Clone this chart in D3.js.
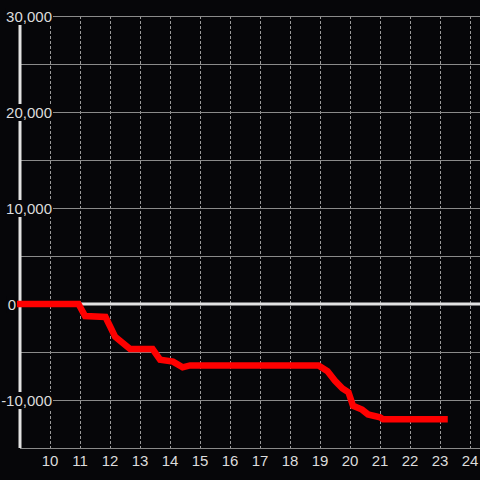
<!DOCTYPE html>
<html><head><meta charset="utf-8">
<script src="https://cdn.jsdelivr.net/npm/d3@7"></script>
<style>html,body{margin:0;padding:0;background:#060609;}svg{display:block;}</style>
</head><body>
<svg id="c" width="480" height="480"></svg>
<script>
const hours = [9, 10.95, 11.17, 11.85, 12.17, 12.67, 13.42, 13.67, 14.1, 14.42, 14.67, 18.95, 19.25, 19.5, 19.75, 19.95, 20.1, 20.4, 20.6, 21.0, 21.1, 23.15];
const values = [0, 0, -1250, -1350, -3400, -4700, -4700, -5800, -6000, -6600, -6400, -6400, -7000, -8000, -8800, -9200, -10600, -11000, -11500, -11800, -12000, -12000];
const yGridTicks = [-15000, -10000, -5000, 0, 5000, 10000, 15000, 20000, 25000, 30000];
const yLabelTicks = [-10000, 0, 10000, 20000, 30000];
const xTicks = [10, 11, 12, 13, 14, 15, 16, 17, 18, 19, 20, 21, 22, 23, 24];

const svg = d3.select("#c");
const W = 480, H = 480;
const x = d3.scaleLinear().domain([9, 24]).range([20, 470]);
const y = d3.scaleLinear().domain([-15000, 30000]).range([448, 16]);
const fmt = d3.format(",");
const font = "'Liberation Sans', Arial, sans-serif";

svg.append("rect").attr("width", W).attr("height", H).attr("fill", "#060609");

// vertical dashed grid
svg.append("g").selectAll("line").data(xTicks).join("line")
  .attr("x1", d => x(d) + 0.5).attr("x2", d => x(d) + 0.5)
  .attr("y1", y(30000)).attr("y2", y(-15000))
  .attr("stroke", "#9a9a9a").attr("stroke-width", 1).attr("stroke-dasharray", "3,2");

// horizontal grid
svg.append("g").selectAll("line").data(yGridTicks.filter(d => d !== 0)).join("line")
  .attr("x1", x(9)).attr("x2", W)
  .attr("y1", d => y(d) + 0.5).attr("y2", d => y(d) + 0.5)
  .attr("stroke", "#8a8a8a").attr("stroke-width", 1);

// zero line
svg.append("line").attr("x1", x(9)).attr("x2", W)
  .attr("y1", y(0)).attr("y2", y(0))
  .attr("stroke", "#e2e2e2").attr("stroke-width", 3);

// left axis
svg.append("line").attr("x1", x(9)).attr("x2", x(9))
  .attr("y1", y(30000)).attr("y2", y(-15000))
  .attr("stroke", "#e2e2e2").attr("stroke-width", 3);

// data line
const pts = hours.map((h, i) => [h, values[i]]);
svg.append("path").datum(pts)
  .attr("d", d3.line().x(d => x(d[0])).y(d => y(d[1])))
  .attr("fill", "none").attr("stroke", "#ff0000").attr("stroke-width", 6.5)
  .attr("stroke-linejoin", "miter").attr("stroke-linecap", "square");

// y labels with background
const yl = svg.append("g");
yLabelTicks.forEach(v => {
  const g = yl.append("g");
  const t = g.append("text")
    .attr("x", v === 0 ? 16 : 52)
    .attr("y", y(v) + 6)
    .attr("text-anchor", "end")
    .attr("font-family", font).attr("font-size", 15)
    .attr("fill", "#dcdcdc")
    .text(fmt(v).replace("−", "-"));
  const b = t.node().getBBox();
  g.insert("rect", "text")
    .attr("x", b.x - 1).attr("y", b.y).attr("width", b.width + 2).attr("height", b.height)
    .attr("fill", "#060609");
});

// x labels
svg.append("g").selectAll("text").data(xTicks).join("text")
  .attr("x", d => x(d)).attr("y", 466)
  .attr("text-anchor", "middle")
  .attr("font-family", font).attr("font-size", 15)
  .attr("fill", "#dcdcdc")
  .text(d => d);
</script>
</body></html>
